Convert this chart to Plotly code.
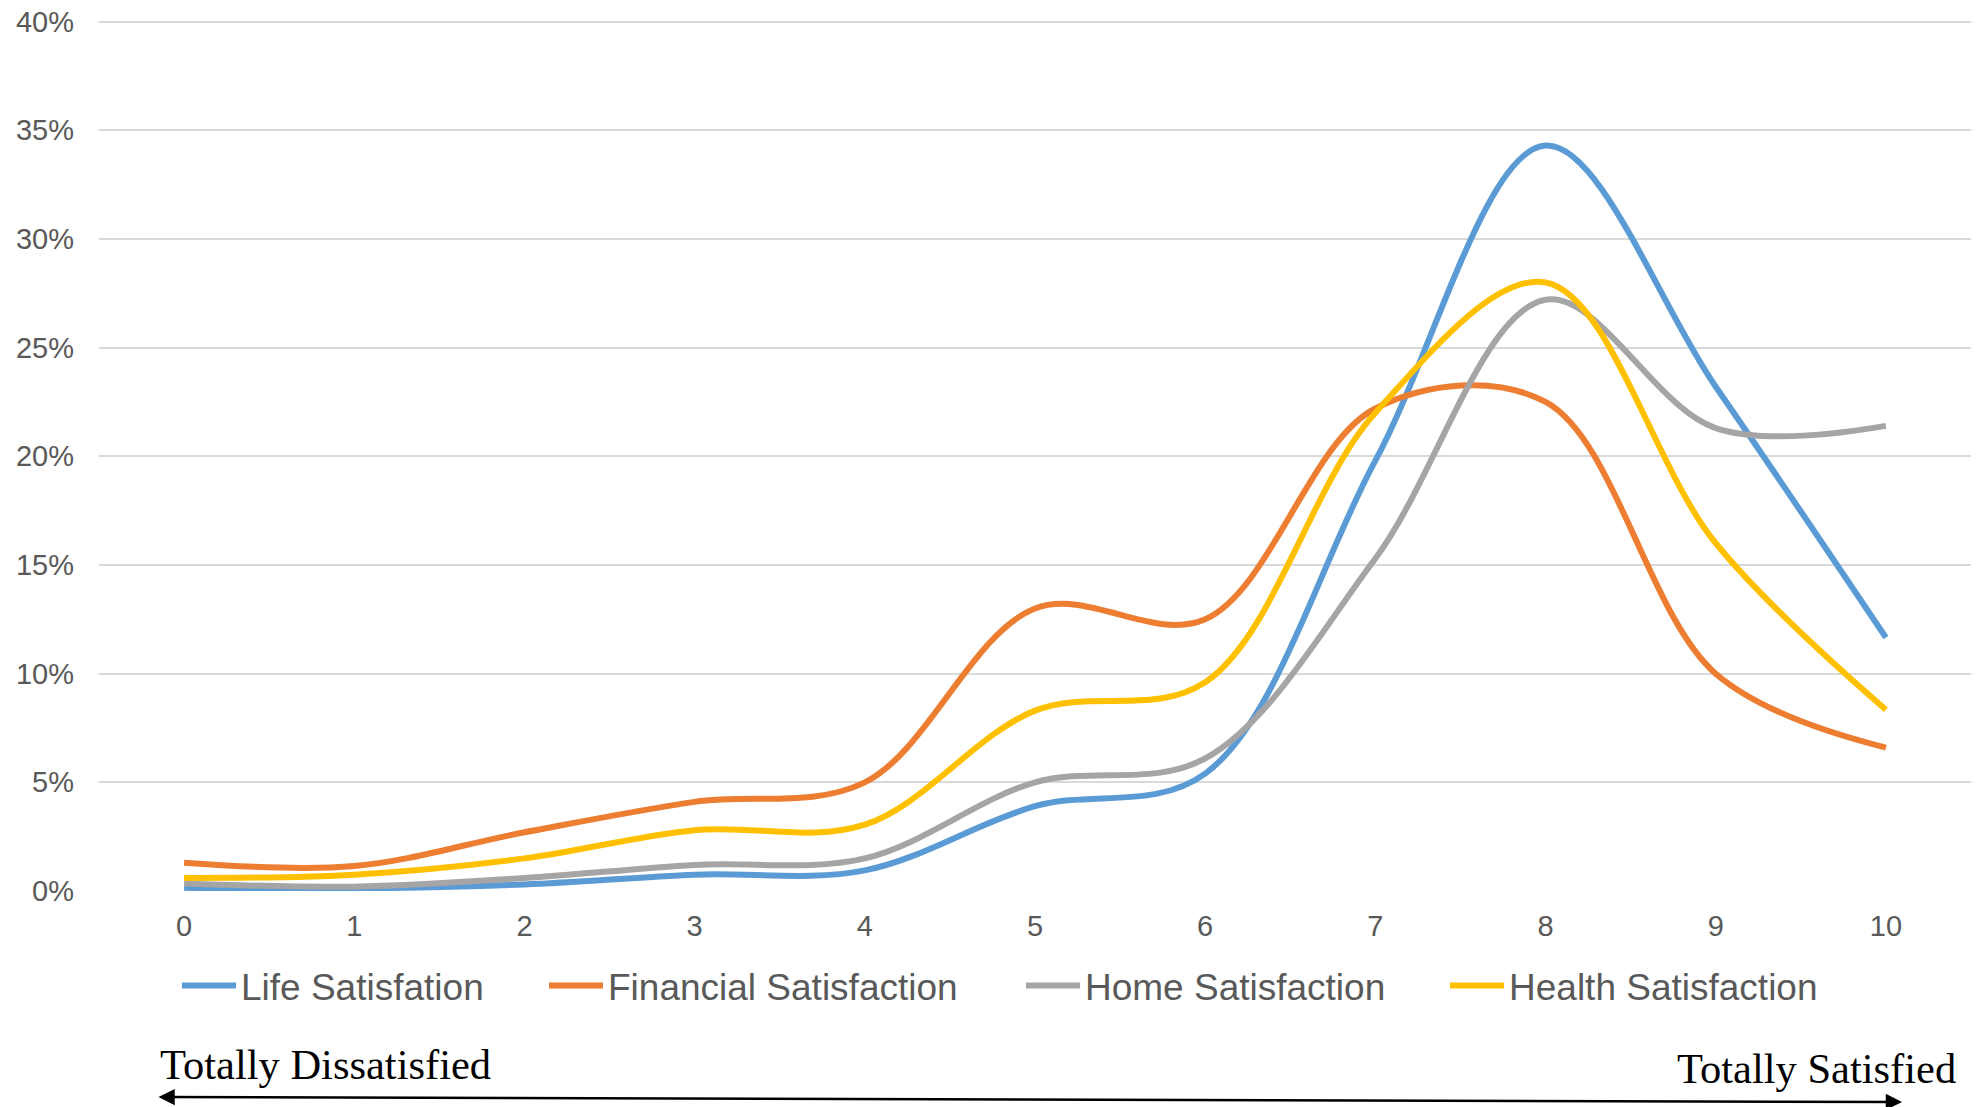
import plotly.graph_objects as go

# ---- data (percent) ----
scores = [0, 1, 2, 3, 4, 5, 6, 7, 8, 9, 10]
life = [0.15, 0.12, 0.3, 0.75, 0.95, 3.9, 5.4, 19.8, 34.3, 23.2, 11.66]
financial = [1.3, 1.15, 2.7, 4.1, 5.0, 13.0, 12.5, 22.2, 22.5, 10.0, 6.6]
home = [0.35, 0.2, 0.6, 1.2, 1.5, 5.0, 6.1, 15.3, 27.2, 21.3, 21.4]
health = [0.6, 0.75, 1.5, 2.8, 3.05, 8.3, 9.6, 22.0, 28.0, 16.0, 8.34]

series_names = ["Life Satisfation", "Financial Satisfaction", "Home Satisfaction", "Health Satisfaction"]
series_values = [life, financial, home, health]
series_colors = ["#5B9BD5", "#ED7D31", "#A5A5A5", "#FFC000"]
legend_ids = ["legend", "legend2", "legend3", "legend4"]

y_ticks = [0, 0.05, 0.10, 0.15, 0.20, 0.25, 0.30, 0.35, 0.40]

W, H = 1987, 1107
L, R, T, B = 99, 16, 19, 216
PW, PH = W - L - R, H - T - B


def px_x(p):
    return (p - L) / PW


def px_y(p):
    return (H - B - p) / PH


fig = go.Figure()
for name, vals, col, lg in zip(series_names, series_values, series_colors, legend_ids):
    fig.add_trace(go.Scatter(
        x=scores, y=[v / 100 for v in vals], name=name, mode="lines",
        line=dict(color=col, width=6, shape="spline", smoothing=1.0),
        legend=lg,
    ))

text_starts = [239, 606, 1083, 1507]
legend_layouts = {}
for lg, ts in zip(legend_ids, text_starts):
    legend_layouts[lg] = dict(
        x=px_x(ts - 62), xanchor="left", y=px_y(986), yanchor="middle",
        orientation="h", bgcolor="rgba(0,0,0,0)", itemwidth=54,
        font=dict(family="Liberation Sans, Arial", size=37, color="#595959"),
    )

fig.update_layout(
    width=W, height=H,
    margin=dict(l=L, r=R, t=T, b=B, pad=0, autoexpand=False),
    paper_bgcolor="white", plot_bgcolor="white",
    showlegend=True,
    font=dict(family="Liberation Sans, Arial", color="#595959"),
    xaxis=dict(
        range=[-0.5, 10.5], tickmode="array", tickvals=scores,
        ticktext=[str(s) for s in scores], automargin=False,
        showgrid=False, zeroline=False, showline=False, ticks="",
        tickfont=dict(size=29, color="#595959"), ticklabelstandoff=15,
    ),
    yaxis=dict(
        range=[0, 0.4012], tickmode="array", tickvals=y_ticks, tickformat=".0%",
        showgrid=True, gridcolor="#D9D9D9", gridwidth=2, automargin=False,
        zeroline=False, showline=False, ticks="",
        tickfont=dict(size=29, color="#595959"), ticklabelstandoff=24,
    ),
    **legend_layouts,
)

# bottom scale annotations
fig.add_annotation(
    text="Totally Dissatisfied", xref="paper", yref="paper",
    x=px_x(158), y=px_y(1064), xanchor="left", yanchor="middle", showarrow=False,
    font=dict(family="Liberation Serif, Times New Roman", size=42.5, color="black"),
)
fig.add_annotation(
    text="Totally Satisfied", xref="paper", yref="paper",
    x=px_x(1958), y=px_y(1068), xanchor="right", yanchor="middle", showarrow=False,
    font=dict(family="Liberation Serif, Times New Roman", size=42.5, color="black"),
)
fig.add_annotation(
    text="", xref="paper", yref="paper", x=px_x(1902), y=px_y(1102),
    ax=-(1902 - 157), ay=-5, axref="pixel", ayref="pixel",
    showarrow=True, arrowside="end+start", arrowhead=2, startarrowhead=2,
    arrowsize=1.3, startarrowsize=1.3, arrowwidth=2.5, arrowcolor="black", standoff=0,
    startstandoff=0,
)

fig.write_html("out.html")
